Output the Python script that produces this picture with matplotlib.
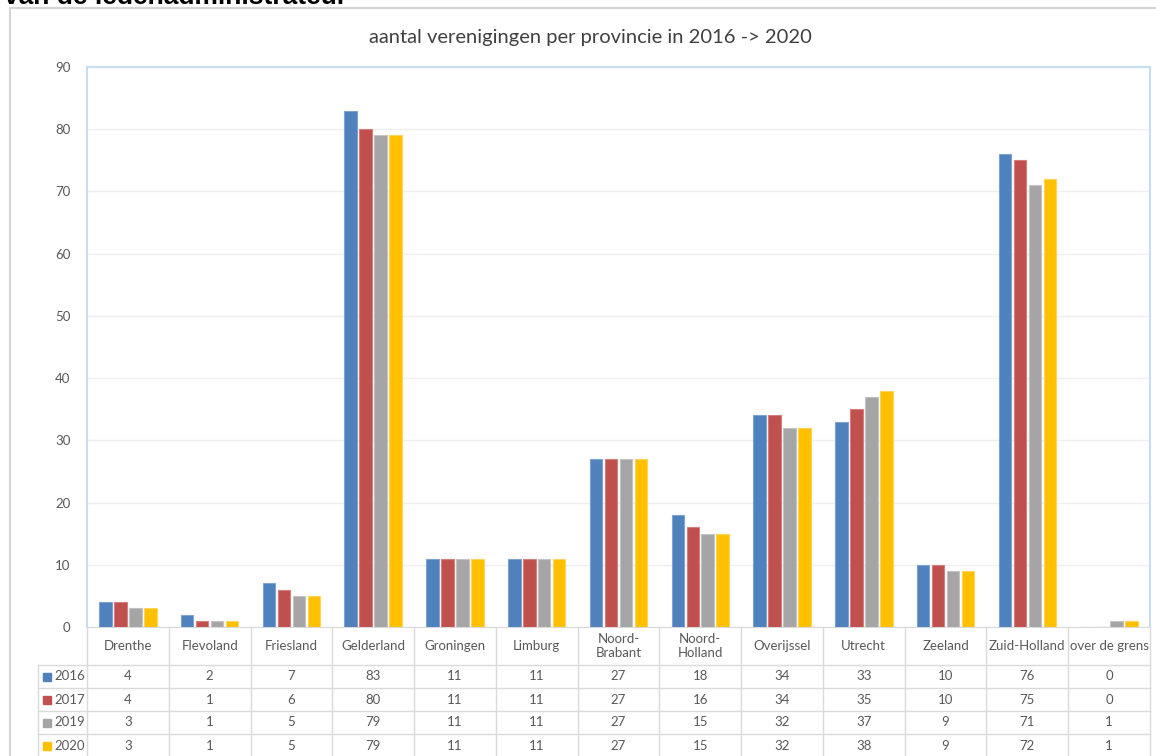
import numpy as np
import matplotlib
matplotlib.use("Agg")
import matplotlib.pyplot as plt
from matplotlib.lines import Line2D
import matplotlib.transforms as mtransforms

provinces = ["Drenthe", "Flevoland", "Friesland", "Gelderland", "Groningen", "Limburg",
             "Noord-\nBrabant", "Noord-\nHolland", "Overijssel", "Utrecht", "Zeeland",
             "Zuid-Holland", "over de grens"]
years = ["2016", "2017", "2019", "2020"]
v2016 = [4, 2, 7, 83, 11, 11, 27, 18, 34, 33, 10, 76, 0]
v2017 = [4, 1, 6, 80, 11, 11, 27, 16, 34, 35, 10, 75, 0]
v2019 = [3, 1, 5, 79, 11, 11, 27, 15, 32, 37, 9, 71, 1]
v2020 = [3, 1, 5, 79, 11, 11, 27, 15, 32, 38, 9, 72, 1]
series = [v2016, v2017, v2019, v2020]
colors = ["#4F81BD", "#C0504D", "#A5A5A5", "#FFC000"]
edges = ["#7DA3D3", "#D57F7D", "#C3C3C3", "#FFD45C"]
yticks = [0, 10, 20, 30, 40, 50, 60, 70, 80, 90]

W, H = 1156, 756
fig = plt.figure(figsize=(W / 100, H / 100), dpi=100)
fig.patch.set_facecolor("white")
font = ["Lato", "DejaVu Sans"]
grey = "#595959"

# heading cut off at the top of the screenshot
fig.text(4 / W, 1 - 4 / H, "van de ledenadministrateur", fontsize=19, fontweight="bold",
         family=["Liberation Sans", "DejaVu Sans"], ha="left", va="baseline", color="black")

# outer chart border
fig.add_artist(Line2D([10 / W, 1], [1 - 8 / H, 1 - 8 / H], color="#D4D4D4", lw=1.5))
fig.add_artist(Line2D([10 / W, 10 / W], [0, 1 - 8 / H], color="#D4D4D4", lw=1.5))

left, right, top, bottom = 87, 1150, 67, 627
ax = fig.add_axes([left / W, 1 - bottom / H, (right - left) / W, (bottom - top) / H])
n = len(provinces)
x = np.arange(n)
bw, pitch = 0.153, 0.183
for k, vals in enumerate(series):
    ax.bar(x + (k - 1.5) * pitch, vals, width=bw, color=colors[k],
           edgecolor=edges[k], linewidth=0.8, zorder=3)

ax.set_xlim(-0.5, n - 0.5)
ax.set_ylim(0, 90)
ax.set_yticks(yticks)
ax.set_yticklabels([str(t) for t in yticks], fontsize=9.5, color=grey, family=font)
ax.tick_params(axis="y", length=0, pad=12)
ax.set_xticks([])
ax.grid(axis="y", color="#EFEFEF", lw=1, zorder=0)
for s in ["left", "top", "right"]:
    ax.spines[s].set_color("#C9DDF2")
    ax.spines[s].set_linewidth(1.5)
ax.spines["bottom"].set_color("#D9D9D9")

fig.text(590 / W, 1 - 38 / H, "aantal verenigingen per provincie in 2016 -> 2020",
         fontsize=14.5, color="#404040", family=font, ha="center", va="center")

# data table below the axis
trans = mtransforms.blended_transform_factory(ax.transData, fig.transFigure)
line_c = "#DADADA"
row_edges = [627, 665, 688, 711, 734, 757]
tbl_left = 38
for xe in np.arange(n + 1) - 0.5:
    fig.add_artist(Line2D([xe, xe], [1 - 627 / H, 0], color=line_c, lw=1, transform=trans))
fig.add_artist(Line2D([tbl_left / W, tbl_left / W], [0, 1 - 665 / H], color=line_c, lw=1))
for ye in row_edges[1:-1]:
    fig.add_artist(Line2D([tbl_left / W, right / W], [1 - ye / H, 1 - ye / H], color=line_c, lw=1))

for i, name in enumerate(provinces):
    fig.text(x[i], 1 - 646 / H, name, transform=trans, ha="center", va="center",
             fontsize=9.5, color=grey, family=font, linespacing=1.2)
for k, vals in enumerate(series):
    yc = 1 - (row_edges[k + 1] + row_edges[k + 2]) / 2 / H
    for i, v in enumerate(vals):
        fig.text(x[i], yc, str(v), transform=trans, ha="center", va="center",
                 fontsize=9.5, color=grey, family=font)
    fig.patches.append(plt.Rectangle((43 / W, yc - 4 / H), 8 / W, 8 / H, color=colors[k],
                                     transform=fig.transFigure, figure=fig))
    fig.text(54 / W, yc, years[k], ha="left", va="center", fontsize=9.5, color=grey, family=font)

fig.savefig("out.png", dpi=100)
